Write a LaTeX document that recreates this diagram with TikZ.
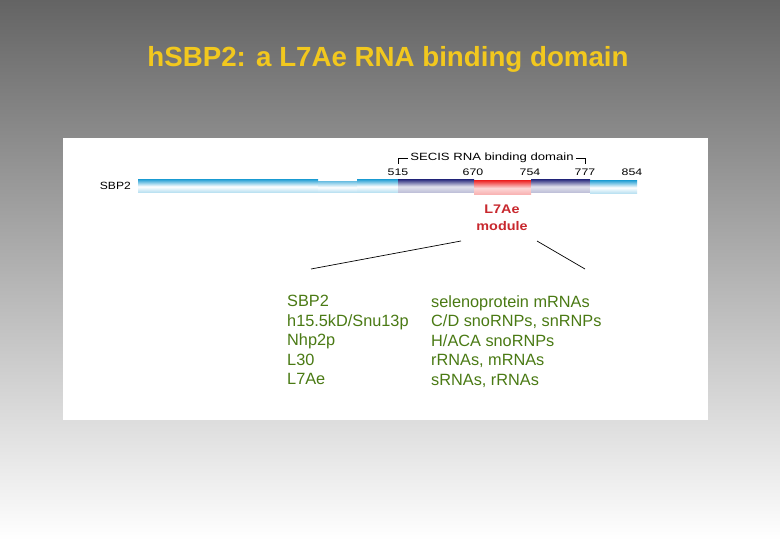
\documentclass[tikz,border=0pt]{standalone}
\usepackage{fontspec}
\setmainfont{Liberation Sans}
\usepackage{graphicx}
\usepackage{tikz}
\usetikzlibrary{positioning}
\definecolor{slidegray}{HTML}{646464}
\definecolor{titleyellow}{HTML}{F2C81E}
\definecolor{listgreen}{HTML}{4A7A14}
\definecolor{modulered}{HTML}{C8282E}
\definecolor{barblue}{HTML}{38A8D8}
\definecolor{barnavy}{HTML}{3A3C88}
\definecolor{barred}{HTML}{EE3434}
\newcommand{\wide}[1]{\scalebox{1.3}[1]{#1}}
\tikzset{
  title/.style     = {font=\bfseries\fontsize{27.7}{32}\selectfont, text=titleyellow},
  tick/.style      = {font=\fontsize{9.5}{10}\selectfont, inner sep=0pt},
  smalllabel/.style= {font=\fontsize{10.5}{12}\selectfont, inner sep=0pt},
  module/.style    = {font=\bfseries\fontsize{12.5}{17}\selectfont, text=modulered, align=center, inner sep=0pt},
  list/.style      = {font=\fontsize{16.3}{19.5}\selectfont, text=listgreen, align=left, inner sep=0pt},
  blueseg/.style   = {top color=barblue, bottom color=barblue!40, middle color=white},
  notchseg/.style  = {top color=barblue!70, bottom color=barblue!40, middle color=white},
  navyseg/.style   = {top color=barnavy, bottom color=barnavy!35, middle color=barnavy!15},
  redseg/.style    = {top color=barred, bottom color=barred!40, middle color=barred!20},
  line/.style      = {black, line width=0.7pt},
}

\begin{document}
\begin{tikzpicture}[x=1pt, y=-1pt]
    % Slide background
    \useasboundingbox (0,0) rectangle (780,540);
    \shade[top color=slidegray, bottom color=white] (0,0) rectangle (780,540);
    \fill[white] (63,138) rectangle (708,420);

    \node[title] (heading) at (388,59) {hSBP2: a L7Ae RNA binding domain};

    % Domain bar
    \shade[blueseg]  (138,180) rectangle (318,193);
    \shade[notchseg] (318,181.5) rectangle (357,193);
    \shade[blueseg]  (357,180) rectangle (398,193);
    \shade[navyseg]  (398,180) rectangle (474,193);
    \shade[redseg]   (474,181) rectangle (531,195);
    \shade[navyseg]  (531,180) rectangle (590,193);
    \shade[blueseg]  (590,181) rectangle (637,194);
    \node[smalllabel, anchor=east] (protein) at (131,186) {\scalebox{1.15}[1]{SBP2}};

    % Residue numbers
    \node[tick] (n515) at (398,172) {\wide{515}};
    \node[tick] (n670) at (473,172) {\wide{670}};
    \node[tick] (n754) at (530,172) {\wide{754}};
    \node[tick] (n777) at (585,172) {\wide{777}};
    \node[tick] (n854) at (632,172) {\wide{854}};

    % SECIS bracket
    \node[smalllabel] (secis) at (492,158) {\scalebox{1.25}[1]{SECIS RNA binding domain}};
    \draw[line] (398,164) |- ([xshift=-2pt]secis.west);
    \draw[line] (585,164) |- ([xshift=2pt]secis.east);

    % L7Ae module and its partners
    \node[module] (l7ae) at (502,218) {\scalebox{1.15}[1]{L7Ae}\\\scalebox{1.15}[1]{module}};
    \coordinate (leftend) at (311,269);
    \coordinate (rightend) at (585,269);
    \draw[line] (461,241) -- (leftend);
    \draw[line] (537,241) -- (rightend);

    \node[list, anchor=north west] (proteins) at (287,295)
      {SBP2\\h15.5kD/Snu13p\\Nhp2p\\L30\\L7Ae};
    \node[list, anchor=north west] (rnas) at (431,295)
      {selenoprotein mRNAs\\C/D snoRNPs, snRNPs\\H/ACA snoRNPs\\rRNAs, mRNAs\\sRNAs, rRNAs};
  \end{tikzpicture}
\end{document}
